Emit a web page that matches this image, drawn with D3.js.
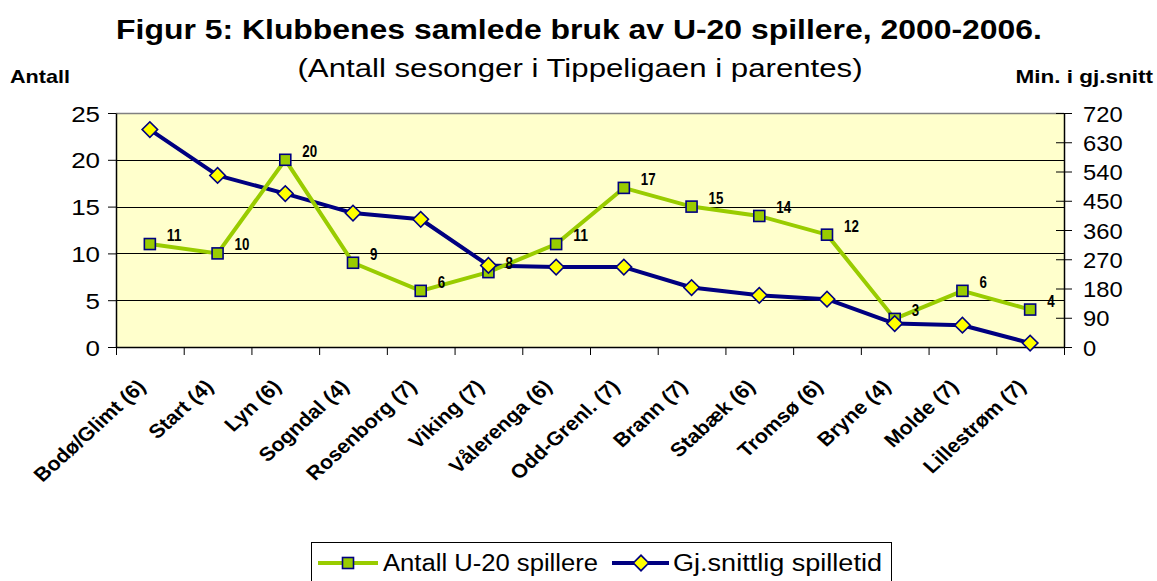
<!DOCTYPE html>
<html>
<head>
<meta charset="utf-8">
<script src="https://cdn.jsdelivr.net/npm/d3@7"></script>
<style>
  body { margin: 0; background: #fff; }
  svg { display: block; font-family: 'Liberation Sans', Arial, sans-serif; }
</style>
</head>
<body>
<svg id="chart" width="1157" height="581"></svg>
<script>
const categories = ['Bodø/Glimt (6)', 'Start (4)', 'Lyn (6)', 'Sogndal (4)', 'Rosenborg (7)', 'Viking (7)',
  'Vålerenga (6)', 'Odd-Grenl. (7)', 'Brann (7)', 'Stabæk (6)', 'Tromsø (6)', 'Bryne (4)', 'Molde (7)', 'Lillestrøm (7)'];
const antallU20 = [11, 10, 20, 9, 6, 8, 11, 17, 15, 14, 12, 3, 6, 4];
const snittMinutter = [669, 528, 472, 412, 393, 251, 246, 246, 183, 159, 147, 72, 67, 12];
const leftTicks = [0, 5, 10, 15, 20, 25];
const rightTicks = [0, 90, 180, 270, 360, 450, 540, 630, 720];

const plot = { left: 116, right: 1064, top: 113, bottom: 347 };
const SX = 1.18; // the source image is stretched sideways
const green = '#99cc00', navy = '#000080';

const svg = d3.select('#chart');

const x = d3.scaleBand().domain(categories).range([plot.left, plot.right]).padding(0);
const xEdge = d3.scaleLinear().domain([0, categories.length]).range([plot.left, plot.right]);
const yL = d3.scaleLinear().domain([0, 25]).range([plot.bottom, plot.top]);
const yR = d3.scaleLinear().domain([0, 720]).range([plot.bottom, plot.top]);
const cx = d => x(d) + x.bandwidth() / 2;

// plot background
svg.append('rect')
  .attr('x', plot.left).attr('y', plot.top)
  .attr('width', plot.right - plot.left).attr('height', plot.bottom - plot.top)
  .attr('fill', '#ffffcc');

// gridlines
svg.append('g').selectAll('line')
  .data(leftTicks.filter(t => t > 0 && t < 25))
  .enter().append('line')
  .attr('x1', plot.left).attr('x2', plot.right)
  .attr('y1', d => Math.round(yL(d)) + 0.5).attr('y2', d => Math.round(yL(d)) + 0.5)
  .attr('stroke', '#000').attr('stroke-width', 1);

svg.append('line')
  .attr('x1', plot.left).attr('x2', plot.right)
  .attr('y1', plot.top + 0.5).attr('y2', plot.top + 0.5)
  .attr('stroke', '#808080').attr('stroke-width', 1.5);

// left axis
const gL = svg.append('g')
  .attr('transform', `translate(${plot.left},0)`)
  .call(d3.axisLeft(yL).tickValues(leftTicks).tickSize(8).tickSizeOuter(0));
gL.selectAll('text')
  .attr('x', null).attr('dy', null)
  .attr('transform', `translate(-16,8) scale(${SX},1)`)
  .attr('font-size', 22).attr('fill', '#000')
  .style('font-family', 'Liberation Sans, Arial, sans-serif');

// right axis
const gR = svg.append('g')
  .attr('transform', `translate(${plot.right},0)`)
  .call(d3.axisRight(yR).tickValues(rightTicks).tickSize(8).tickSizeOuter(0));
gR.selectAll('.tick line').attr('x1', -8);
gR.selectAll('text')
  .attr('x', null).attr('dy', null)
  .attr('transform', `translate(19,8) scale(1.08,1)`)
  .attr('font-size', 22).attr('fill', '#000')
  .style('font-family', 'Liberation Sans, Arial, sans-serif');

// bottom axis
svg.append('g')
  .attr('transform', `translate(0,${plot.bottom})`)
  .call(d3.axisBottom(xEdge).tickValues(d3.range(categories.length + 1)).tickFormat('').tickSize(8).tickSizeOuter(0));

svg.selectAll('.domain').attr('stroke', '#000').attr('stroke-width', 1.5);
svg.selectAll('.tick line').attr('stroke', '#000').attr('stroke-width', 1);

// category labels
svg.append('g').selectAll('text')
  .data(categories)
  .enter().append('text')
  .attr('transform', d => `translate(${cx(d) - 3},${plot.bottom + 41}) scale(1.1,1) rotate(-45)`)
  .attr('text-anchor', 'end')
  .attr('font-size', 19.5).attr('font-weight', 'bold')
  .text(d => d);

// navy line: average minutes
const lineR = d3.line().x((d, i) => cx(categories[i])).y(d => yR(d));
svg.append('path')
  .datum(snittMinutter)
  .attr('d', lineR)
  .attr('fill', 'none').attr('stroke', navy).attr('stroke-width', 4)
  .attr('stroke-linejoin', 'round');

// green line: number of U-20 players
const lineL = d3.line().x((d, i) => cx(categories[i])).y(d => yL(d));
svg.append('path')
  .datum(antallU20)
  .attr('d', lineL)
  .attr('fill', 'none').attr('stroke', green).attr('stroke-width', 4);

svg.append('g').selectAll('rect')
  .data(antallU20)
  .enter().append('rect')
  .attr('x', (d, i) => cx(categories[i]) - 5.5)
  .attr('y', d => yL(d) - 5.5)
  .attr('width', 11).attr('height', 11)
  .attr('fill', green).attr('stroke', navy).attr('stroke-width', 1.6);

const diamond = d3.symbol().type(d3.symbolSquare).size(120);
svg.append('g').selectAll('path')
  .data(snittMinutter)
  .enter().append('path')
  .attr('d', diamond)
  .attr('transform', (d, i) => `translate(${cx(categories[i])},${yR(d)}) rotate(45)`)
  .attr('fill', '#ffff00').attr('stroke', navy).attr('stroke-width', 1.6);

// data labels
svg.append('g').selectAll('text')
  .data(antallU20)
  .enter().append('text')
  .attr('x', (d, i) => cx(categories[i]) + 17)
  .attr('y', d => yL(d) - 3)
  .attr('font-size', 16).attr('font-weight', 'bold')
  .attr('textLength', d => String(d).length * 7.4)
  .attr('lengthAdjust', 'spacingAndGlyphs')
  .text(d => d);

// titles
svg.append('text')
  .attr('transform', `translate(579,39) scale(1.14,1)`)
  .attr('text-anchor', 'middle').attr('font-size', 28).attr('font-weight', 'bold')
  .text('Figur 5: Klubbenes samlede bruk av U-20 spillere, 2000-2006.');
svg.append('text')
  .attr('transform', `translate(580,77) scale(1.2,1)`)
  .attr('text-anchor', 'middle').attr('font-size', 26)
  .text('(Antall sesonger i Tippeligaen i parentes)');
svg.append('text')
  .attr('transform', `translate(10,83) scale(1.2,1)`)
  .attr('font-size', 18).attr('font-weight', 'bold')
  .text('Antall');
svg.append('text')
  .attr('transform', `translate(1153,83) scale(1.25,1)`)
  .attr('text-anchor', 'end').attr('font-size', 18).attr('font-weight', 'bold')
  .text('Min. i gj.snitt');

// legend
const legend = svg.append('g');
legend.append('rect')
  .attr('x', 311.5).attr('y', 542.5).attr('width', 580).attr('height', 46)
  .attr('fill', '#fff').attr('stroke', '#000').attr('stroke-width', 1);
const legY = 563;
legend.append('line').attr('x1', 318).attr('x2', 378).attr('y1', legY).attr('y2', legY)
  .attr('stroke', green).attr('stroke-width', 4);
legend.append('rect').attr('x', 348 - 5.5).attr('y', legY - 5.5).attr('width', 11).attr('height', 11)
  .attr('fill', green).attr('stroke', navy).attr('stroke-width', 1.6);
legend.append('text').attr('x', 383).attr('y', legY + 8).attr('font-size', 23)
  .attr('textLength', 215).attr('lengthAdjust', 'spacingAndGlyphs')
  .text('Antall U-20 spillere');
legend.append('line').attr('x1', 612).attr('x2', 669).attr('y1', legY).attr('y2', legY)
  .attr('stroke', navy).attr('stroke-width', 4);
legend.append('path').attr('d', diamond)
  .attr('transform', `translate(641,${legY}) rotate(45)`)
  .attr('fill', '#ffff00').attr('stroke', navy).attr('stroke-width', 1.6);
legend.append('text').attr('x', 673).attr('y', legY + 8).attr('font-size', 23)
  .attr('textLength', 209).attr('lengthAdjust', 'spacingAndGlyphs')
  .text('Gj.snittlig spilletid');
</script>
</body>
</html>
